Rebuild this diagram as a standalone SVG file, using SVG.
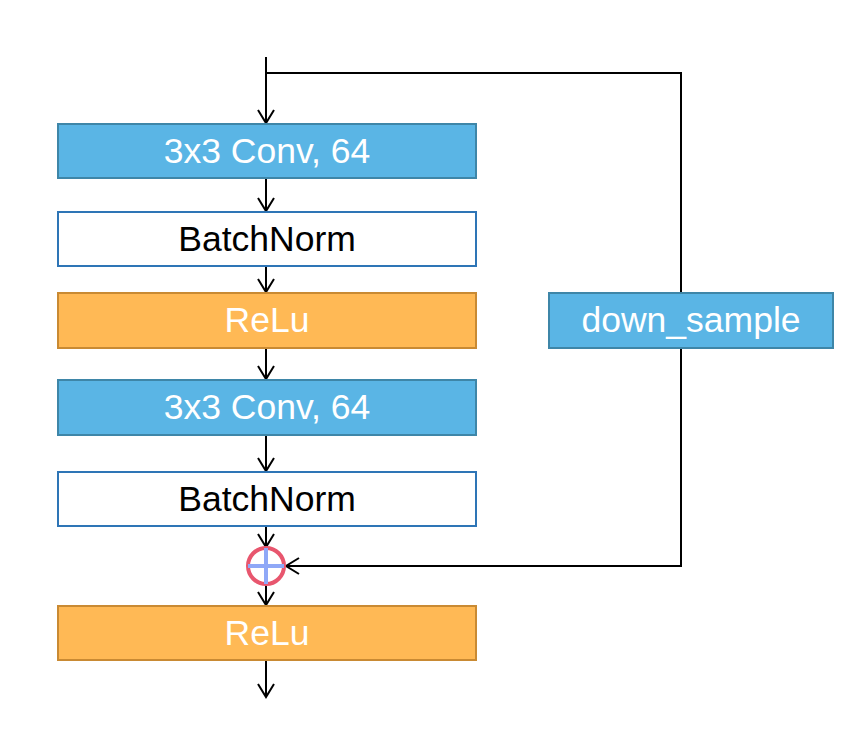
<svg xmlns="http://www.w3.org/2000/svg" width="854" height="731" viewBox="0 0 854 731">
<defs>
<marker id="arr" viewBox="0 0 20 20" refX="18" refY="10" markerWidth="20" markerHeight="20" markerUnits="userSpaceOnUse" orient="auto">
<polyline points="5,2 18,10 5,18" fill="none" stroke="#000" stroke-width="2"/>
</marker>
</defs>
<style>
.conv{fill:#5AB5E5;stroke:#3E86A8;stroke-width:2}
.bn{fill:#FFFFFF;stroke:#2E75B6;stroke-width:2}
.relu{fill:#FFB955;stroke:#C98A33;stroke-width:2}
.t{font-family:"Liberation Sans",Arial,sans-serif;font-size:35.5px;text-anchor:middle}
.w{fill:#FFFFFF}
.k{fill:#000000}
.c{fill:none;stroke:#000;stroke-width:2}
</style>
<rect width="854" height="731" fill="#FFFFFF"/>
<g id="connectors">
<line class="c" x1="266" y1="57" x2="266" y2="123" marker-end="url(#arr)"/>
<polyline class="c" points="266,73 681,73 681,293"/>
<polyline class="c" points="681,348 681,566 286,566" marker-end="url(#arr)"/>
<line class="c" x1="266" y1="178" x2="266" y2="211" marker-end="url(#arr)"/>
<line class="c" x1="266" y1="266" x2="266" y2="292" marker-end="url(#arr)"/>
<line class="c" x1="266" y1="348" x2="266" y2="379" marker-end="url(#arr)"/>
<line class="c" x1="266" y1="435" x2="266" y2="471" marker-end="url(#arr)"/>
<line class="c" x1="266" y1="526" x2="266" y2="547" marker-end="url(#arr)"/>
<line class="c" x1="266" y1="585" x2="266" y2="605" marker-end="url(#arr)"/>
<line class="c" x1="266" y1="660" x2="266" y2="697" marker-end="url(#arr)"/>
</g>
<g id="conv1"><rect class="conv" x="58" y="124" width="418" height="54"/><text class="t w" x="267" y="163">3x3 Conv, 64</text></g>
<g id="bn1"><rect class="bn" x="58" y="212" width="418" height="54"/><text class="t k" x="267" y="251">BatchNorm</text></g>
<g id="relu1"><rect class="relu" x="58" y="293" width="418" height="55"/><text class="t w" x="267" y="332">ReLu</text></g>
<g id="conv2"><rect class="conv" x="58" y="380" width="418" height="55"/><text class="t w" x="267" y="419">3x3 Conv, 64</text></g>
<g id="bn2"><rect class="bn" x="58" y="472" width="418" height="54"/><text class="t k" x="267" y="511">BatchNorm</text></g>
<g id="relu2"><rect class="relu" x="58" y="606" width="418" height="54"/><text class="t w" x="267" y="645">ReLu</text></g>
<g id="down_sample"><rect class="conv" x="549" y="293" width="284" height="55"/><text class="t w" x="691" y="332">down_sample</text></g>
<g id="add">
<circle cx="266" cy="566" r="18" fill="#FFFFFF" stroke="#E8566E" stroke-width="4"/>
<line x1="266" y1="548" x2="266" y2="584" stroke="#8FA8F7" stroke-width="4"/>
<line x1="248" y1="566" x2="284" y2="566" stroke="#8FA8F7" stroke-width="4"/>
</g>
</svg>
